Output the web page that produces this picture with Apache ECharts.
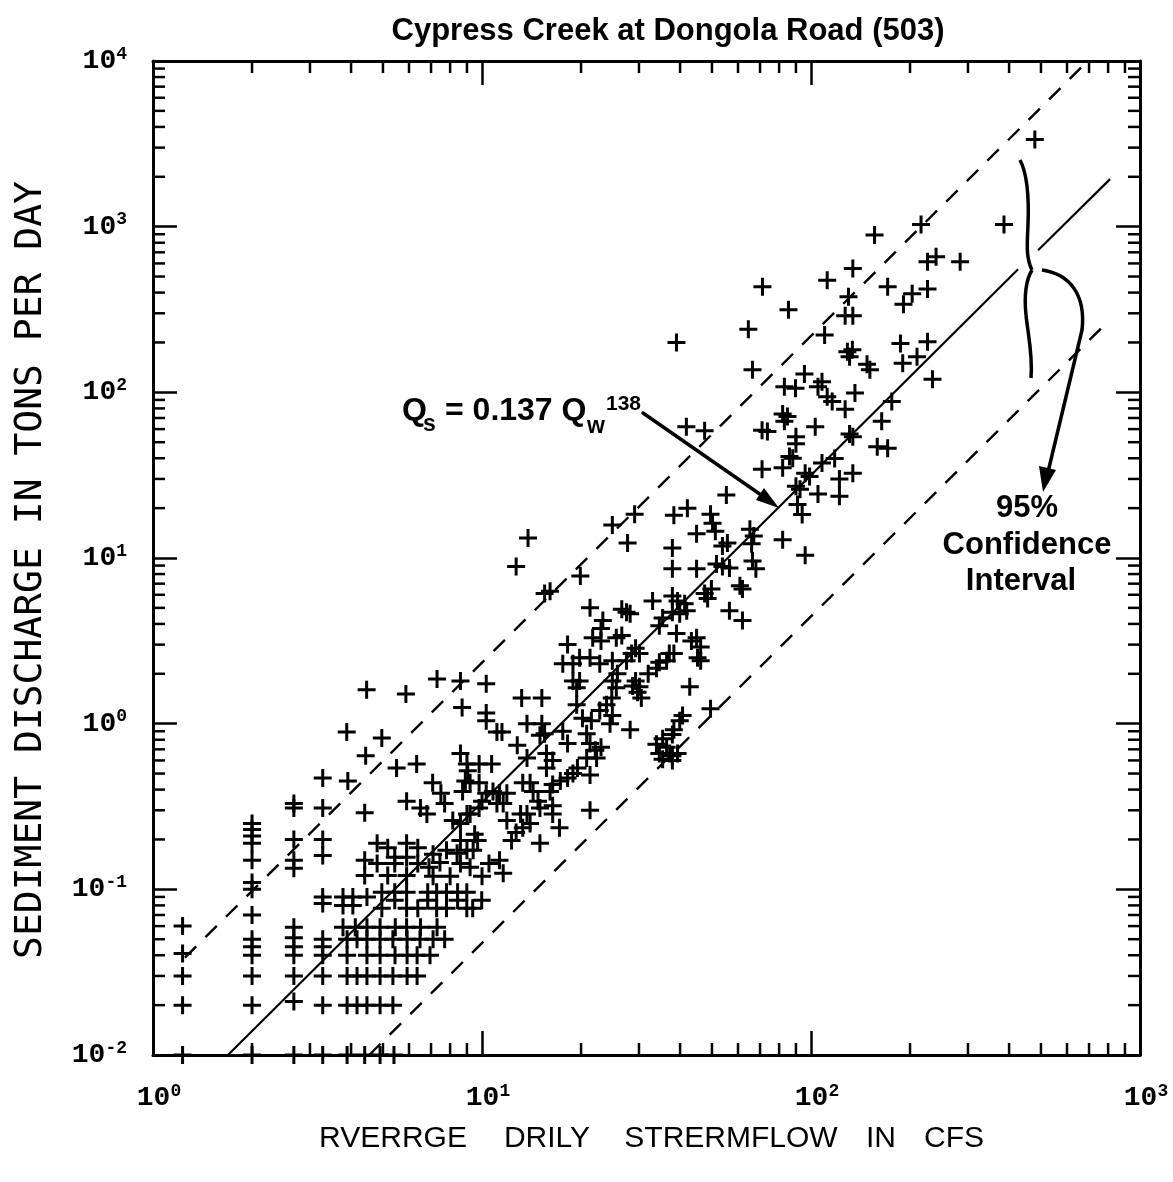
<!DOCTYPE html>
<html><head><meta charset="utf-8">
<script src="https://cdn.jsdelivr.net/npm/echarts/dist/echarts.min.js"></script>
<style>html,body{margin:0;padding:0;background:#fff}#c{width:1173px;height:1182px}</style>
</head><body><div id="c"></div>
<script>
// ---- data ----
const xMinorTicks = [2,3,4,5,6,7,8,9,20,30,40,50,60,70,80,90,200,300,400,500,600,700,800,900];
const yMinorTicks = [0.02,0.03,0.04,0.05,0.06,0.07,0.08,0.09,0.2,0.3,0.4,0.5,0.6,0.7,0.8,0.9,2,3,4,5,6,7,8,9,20,30,40,50,60,70,80,90,200,300,400,500,600,700,800,900,2000,3000,4000,5000,6000,7000,8000,9000];
const fitLine = [[1.69,0.01],[426,553]];
const fitLineUpper = [[490,721],[811,1936]];
const upperLimit = [[1.25,0.0387],[694,10000]];
const lowerLimit = [[4.54,0.01],[800,268]];
const observations = [
[1.23,0.06],[1.23,0.041],[1.23,0.03],[1.23,0.02],[1.23,0.01],
[2,0.25],[2,0.23],[2,0.21],[2,0.19],[2,0.15],[2,0.11],[2,0.1],[2,0.07],[2,0.05],[2,0.045],[2,0.04],[2,0.03],[2,0.02],[2,0.01],
[2.68,0.33],[2.68,0.31],[2.68,0.2],[2.68,0.15],[2.68,0.134],[2.68,0.059],[2.68,0.051],[2.68,0.045],[2.68,0.04],[2.68,0.03],[2.68,0.021],[2.68,0.01],
[3.28,0.47],[3.28,0.31],[3.28,0.2],[3.28,0.16],[3.28,0.09],[3.28,0.082],[3.28,0.05],[3.28,0.045],[3.28,0.04],[3.28,0.03],[3.28,0.02],[3.28,0.01],
[5.5,0.54],[6.33,0.57],[3.91,0.45],[4.4,0.29],[5.9,0.34],[6.5,0.31],[4.4,0.15],[4.4,0.121],
[4.8,0.19],[5.17,0.178],[5.9,0.19],[6.38,0.178],[5.43,0.156],[5.9,0.156],[4.8,0.143],[5.43,0.143],[6.38,0.143],[5.9,0.121],[5.17,0.121],
[3.78,0.09],[3.78,0.08],[4.05,0.09],[4.05,0.08],[4.47,0.09],
[4.96,0.096],[5.43,0.086],[5.9,0.096],[6.38,0.077],[6.84,0.086],[7.28,0.096],[7.8,0.077],[8.43,0.086],[8.99,0.096],[9.37,0.077],[9.98,0.086],[4.96,0.077],[5.9,0.077],[7.28,0.077],[5.43,0.096],[8.43,0.096],[6.84,0.096],[7.8,0.096],[8.99,0.077],
[3.78,0.059],[4.12,0.059],[4.47,0.059],[4.9,0.059],[5.45,0.059],[5.9,0.059],[6.5,0.059],[7.3,0.059],
[3.89,0.05],[4.17,0.05],[4.47,0.05],[4.9,0.05],[5.36,0.05],[5.92,0.05],[6.48,0.05],[7.1,0.05],[7.7,0.05],
[3.89,0.04],[4.47,0.04],[4.9,0.04],[5.44,0.04],[5.92,0.04],[6.35,0.04],[6.95,0.04],
[3.89,0.03],[4.17,0.03],[4.47,0.03],[4.9,0.03],[5.36,0.03],[5.92,0.03],[6.35,0.03],
[3.89,0.02],[4.17,0.02],[4.47,0.02],[4.9,0.02],[5.36,0.02],
[3.89,0.01],[4.4,0.01],[4.9,0.01],[5.4,0.01],
[13.8,13.2],[12.7,8.9],[15.5,6.1],[16.1,6.3],[4.46,1.6],[5.87,1.51],[3.88,0.89],[4.96,0.82],[4.43,0.64],
[7.3,1.86],[8.6,1.81],[10.3,1.74],[13.2,1.43],[15.2,1.43],[8.7,1.25],[10.3,1.16],[10.3,1.04],[11.1,0.89],[11.5,0.89],[13.7,1.0],[15.2,1.0],[15.0,0.85],[15.5,0.87],[12.8,0.74],[13.7,0.62],[15.7,0.66],[16.4,0.6],[15.7,0.54],[8.6,0.66],[9.0,0.57],[9.05,0.52],[8.9,0.45],[8.73,0.39],[9.8,0.57],[10.7,0.57],[9.2,0.44],[9.8,0.44],[7.08,0.44],[7.5,0.38],[7.7,0.33],[6.8,0.285],
[10.3,0.38],[10.8,0.39],[11.3,0.38],[11.9,0.38],[11.1,0.33],[11.6,0.33],[10.0,0.34],[9.8,0.31],[9.2,0.285],[11.9,0.26],[13.1,0.285],[13.7,0.285],[14.0,0.25],[13.3,0.235],[12.7,0.22],[12.3,0.197],[14.3,0.39],[14.8,0.34],[15.0,0.31],[16.4,0.32],[16.4,0.285],[17.2,0.235],[15.0,0.19],[21.3,0.3],[13.3,0.44],[14.0,0.44],[8.15,0.26],[8.6,0.25],[9.0,0.285],[9.5,0.215],[9.7,0.197],[8.6,0.197],[7.8,0.172],[8.4,0.165],[9.0,0.172],[9.4,0.172],
[7.1,0.163],[7.45,0.145],[6.9,0.136],[7.1,0.12],[8.6,0.143],[9.2,0.136],[10.5,0.143],[11.3,0.15],[11.6,0.125],[10.0,0.12],[8.0,0.12],
[18.2,3.0],[21.7,3.3],[23.0,3.75],[23.0,3.16],[25.6,3.3],[17.6,2.3],[18.9,2.3],[19.8,2.5],[21.3,2.5],[22.8,2.3],[24.9,2.4],[18.9,1.81],[19.8,1.81],[19.4,1.65],[19.4,1.3],[20.2,1.08],[21.5,1.04],[22.8,1.2],[23.9,1.3],[24.8,1.43],[24.9,1.12],[20.8,0.87],[21.3,0.76],[22.1,0.69],[23.0,0.72],[20.8,0.62],[22.3,0.62],[19.5,0.54],[18.9,0.5],[18.2,0.47],[21.3,0.49],[17.6,0.9],[18.2,0.76],[17.3,0.45],[16.4,0.43],[16.1,0.39],
[55.3,24],[42.1,20],[38.3,18.1],[49.5,18.4],[50.2,16.2],[51.2,14.5],[29.1,18.4],[24.9,15.8],[27.7,12.3],[44.9,14],[37.9,11.5],[55.7,12.3],[53.8,11.8],[65.2,14.9],[67,13.6],[66,12.2],[37.9,8.6],[44.9,8.6],[51.6,9.2],[53.8,8.9],[56.5,8.7],[66.4,9.6],[68,8.6],[19.9,7.8],[60.8,6.8],[61.9,6.5],[49.8,6.5],[47.5,6.1],[48.5,5.7],[33,5.5],[37.9,5.9],[39.3,5.5],[41.3,5.3],[41.9,4.8],[39.9,4.6],[37.9,4.7],[35.4,4.35],[34.6,3.9],[56.5,4.8],[61.9,4.2],[21.3,5.0],[26.6,4.9],[27.5,4.7],[28.2,4.6],[26.6,3.4],[39,3.5],[43.3,3.16],[44.9,3.3],[46.2,2.9],[45.2,2.5],[46.2,2.4],[29.3,2.85],[28.5,2.65],[30.1,2.65],[27.5,2.4],[37.1,2.65],[38.3,2.65],[36.4,2.4],[34.6,2.35],[33.9,2.16],[32,2.0],[29.3,1.81],[30.1,1.67],[28.7,1.69],[29.7,1.55],[30.5,1.43],[42.8,1.67],[49.5,1.23],[40.7,1.12],[39.9,1.04],[38.3,0.92],[37.9,0.86],[35.4,0.81],[33.9,0.75],[36.4,0.72],[37.2,0.66],[37.9,0.6],[34.6,0.66],[35.4,0.61],[37.9,0.64],[39.3,0.66],[23.3,4.2],[25.8,2.0],[25.6,1.65],[24.9,1.81],[24.5,1.0],[28.2,0.92],
[156,890],[216,1030],[71.2,434],[112,475],[134,560],[171,434],[203,393],[226,420],[226,614],[240,658],[191,340],[130,378],[127,290],[134,290],[85.4,315],[64.5,240],[110,222],[129,176],[133.6,181],[131,164],[187,197],[226,202],[210,164],[190,150],[148,148],[151,137],[234,120],[66.4,137],[95.5,129],[83,108],[89.7,106],[105,108],[108,116],[112,94],[116,88],[136,99],[127,79],[176,88],[82,74],[84.8,71.5],[83,67],[71,59],[73.7,58],[103,62],[131,56],[134,54],[164,67],[90,54],[90,49],[159,47],[171,46],[86,41],[88,40],[71,34.3],[82,35],[96,32.5],[99,31],[108,37.5],[118,39.8],[122,30],[134,32.5],[90,27.1],[92.6,26],[105,24.3],[122,23.6],[91,21],[94,18.3],[47.5,58.7],[41.8,62],[39,200],
[479,3360],[386,1030],[284,614],[82,12.9],[96,10.4]
];
const chartTitle = 'Cypress Creek at Dongola Road (503)';
const xTitleWords = ['RVERRGE','DRILY','STRERMFLOW','IN','CFS'];
const yTitle = 'SEDIMENT DISCHARGE IN TONS PER DAY';

// ---- chart ----
const chart = echarts.init(document.getElementById('c'));
const plus = 'path://M7.5,0H10.5V7.5H18V10.5H10.5V18H7.5V10.5H0V7.5H7.5Z';
const tickFont = 'Liberation Mono';
const expLabel = v => '{b|10}{s|' + Math.round(Math.log10(v)) + '}';
const labelRich = {
  b: {fontFamily: tickFont, fontWeight: 'bold', fontSize: 28, lineHeight: 32, color: '#000'},
  s: {fontFamily: tickFont, fontWeight: 'bold', fontSize: 18, lineHeight: 18, verticalAlign: 'top', color: '#000'}
};
const axisBase = {
  type: 'log', logBase: 10,
  axisLine: {show: true, onZero: false, lineStyle: {color: '#000', width: 3}},
  axisTick: {show: true, inside: true, length: 24, lineStyle: {color: '#000', width: 2.5}},
  splitLine: {show: false}, minorTick: {show: false}, minorSplitLine: {show: false}
};
function T(x, y, text, font, align, valign, rot) {
  return {type: 'text', x: x, y: y, rotation: rot || 0, silent: true,
    style: {text: text, font: font, fill: '#000', align: align, verticalAlign: valign, textAlign: align, textVerticalAlign: valign}};
}
function B(x1, y1, c1x, c1y, c2x, c2y, x2, y2, w, col) {
  return {type: 'bezierCurve', silent: true,
    shape: {x1: x1, y1: y1, cpx1: c1x, cpy1: c1y, cpx2: c2x, cpy2: c2y, x2: x2, y2: y2},
    style: {stroke: col || '#000', lineWidth: w, fill: null}};
}
function L(x1, y1, x2, y2, w, col) {
  return {type: 'line', silent: true, shape: {x1: x1, y1: y1, x2: x2, y2: y2}, style: {stroke: col || '#000', lineWidth: w, lineCap: 'round'}};
}
const wordCenters = [393, 547, 731, 881, 954];
const graphics = [
  T(668, 31, chartTitle, 'bold 31px "Liberation Sans", Arial, sans-serif', 'center', 'middle'),
  T(31, 570, yTitle, '38px "DejaVu Sans Mono", monospace', 'center', 'middle', Math.PI / 2),
  // regression annotation
  T(402, 411, 'Q', 'bold 32px "Liberation Sans", Arial', 'left', 'middle'),
  T(423, 425, 's', 'bold 23px "Liberation Sans", Arial', 'left', 'middle'),
  T(445, 411, '= 0.137 Q', 'bold 32px "Liberation Sans", Arial', 'left', 'middle'),
  T(587, 427, 'w', 'bold 23px "Liberation Sans", Arial', 'left', 'middle'),
  T(606, 404, '138', 'bold 21px "Liberation Sans", Arial', 'left', 'middle'),
  L(643, 413, 764, 497, 3.5),
  {type: 'polygon', silent: true, shape: {points: [[779, 508], [756, 500], [764, 488]]}, style: {fill: '#000'}},
  // brace
  B(1020, 160, 1028, 175, 1029, 200, 1028, 225, 3.5),
  B(1028, 225, 1027, 245, 1026, 258, 1032, 270, 3.5),
  B(1032, 270, 1026, 280, 1024, 295, 1026, 315, 3.5),
  B(1026, 315, 1028, 335, 1033, 355, 1031, 378, 3.5),
  // curved arrow with white halo
  B(1042, 270, 1070, 274, 1086, 295, 1082, 330, 10, '#fff'),
  L(1082, 330, 1048, 472, 10, '#fff'),
  B(1042, 270, 1070, 274, 1086, 295, 1082, 330, 3.5),
  L(1082, 330, 1048, 472, 3.5),
  {type: 'polygon', silent: true, shape: {points: [[1043, 492], [1039, 466], [1056, 470]]}, style: {fill: '#000'}},
  T(1027, 508, '95%', 'bold 31px "Liberation Sans", Arial', 'center', 'middle'),
  T(1027, 545, 'Confidence', 'bold 31px "Liberation Sans", Arial', 'center', 'middle'),
  T(1021, 581, 'Interval', 'bold 31px "Liberation Sans", Arial', 'center', 'middle')
];
xTitleWords.forEach((w, i) => graphics.push(T(wordCenters[i], 1139, w, '30px "Liberation Sans", Arial, sans-serif', 'center', 'middle')));

function tickLine(x1, y1, x2, y2) {
  return {type: 'line', shape: {x1: x1, y1: y1, x2: x2, y2: y2}, style: {stroke: '#000', lineWidth: 2.5}};
}
const option = {
  animation: false,
  backgroundColor: '#fff',
  grid: {left: 153, right: 33, top: 61, bottom: 127, containLabel: false},
  xAxis: [
    Object.assign({}, axisBase, {min: 1, max: 1000, position: 'bottom',
      axisLabel: {show: true, margin: 27, formatter: expLabel, rich: labelRich, padding: [0, 0, 0, 12]}}),
    Object.assign({}, axisBase, {min: 1, max: 1000, position: 'top', axisLabel: {show: false}})
  ],
  yAxis: [
    Object.assign({}, axisBase, {min: 0.01, max: 10000, position: 'left', splitNumber: 6,
      axisLabel: {show: true, margin: 26, formatter: expLabel, rich: labelRich}}),
    Object.assign({}, axisBase, {min: 0.01, max: 10000, position: 'right', splitNumber: 6, axisLabel: {show: false}})
  ],
  series: [
    {type: 'custom', coordinateSystem: 'cartesian2d', silent: true, clip: false, z: 4,
      data: xMinorTicks.map(v => [v, 1]),
      renderItem: function (p, api) {
        const v = api.value(0);
        const b = api.coord([v, 0.01]), t = api.coord([v, 10000]);
        return {type: 'group', children: [tickLine(b[0], b[1], b[0], b[1] - 12), tickLine(t[0], t[1], t[0], t[1] + 12)]};
      }},
    {type: 'custom', coordinateSystem: 'cartesian2d', silent: true, clip: false, z: 4,
      data: yMinorTicks.map(v => [10, v]),
      renderItem: function (p, api) {
        const v = api.value(1);
        const l = api.coord([1, v]), r = api.coord([1000, v]);
        return {type: 'group', children: [tickLine(l[0], l[1], l[0] + 12, l[1]), tickLine(r[0], r[1], r[0] - 12, r[1])]};
      }},
    {type: 'line', data: fitLine, symbol: 'none', silent: true, lineStyle: {color: '#000', width: 2.2}, z: 3},
    {type: 'line', data: fitLineUpper, symbol: 'none', silent: true, lineStyle: {color: '#000', width: 2.2}, z: 3},
    {type: 'line', data: upperLimit, symbol: 'none', silent: true, lineStyle: {color: '#000', width: 2.4, type: [16, 13]}, z: 3},
    {type: 'line', data: lowerLimit, symbol: 'none', silent: true, lineStyle: {color: '#000', width: 2.4, type: [16, 13]}, z: 3},
    {type: 'scatter', data: observations, symbol: plus, symbolSize: 18, clip: false, silent: true,
      itemStyle: {color: '#000', opacity: 1}, z: 5}
  ],
  graphic: graphics
};
chart.setOption(option);
</script>
</body></html>
